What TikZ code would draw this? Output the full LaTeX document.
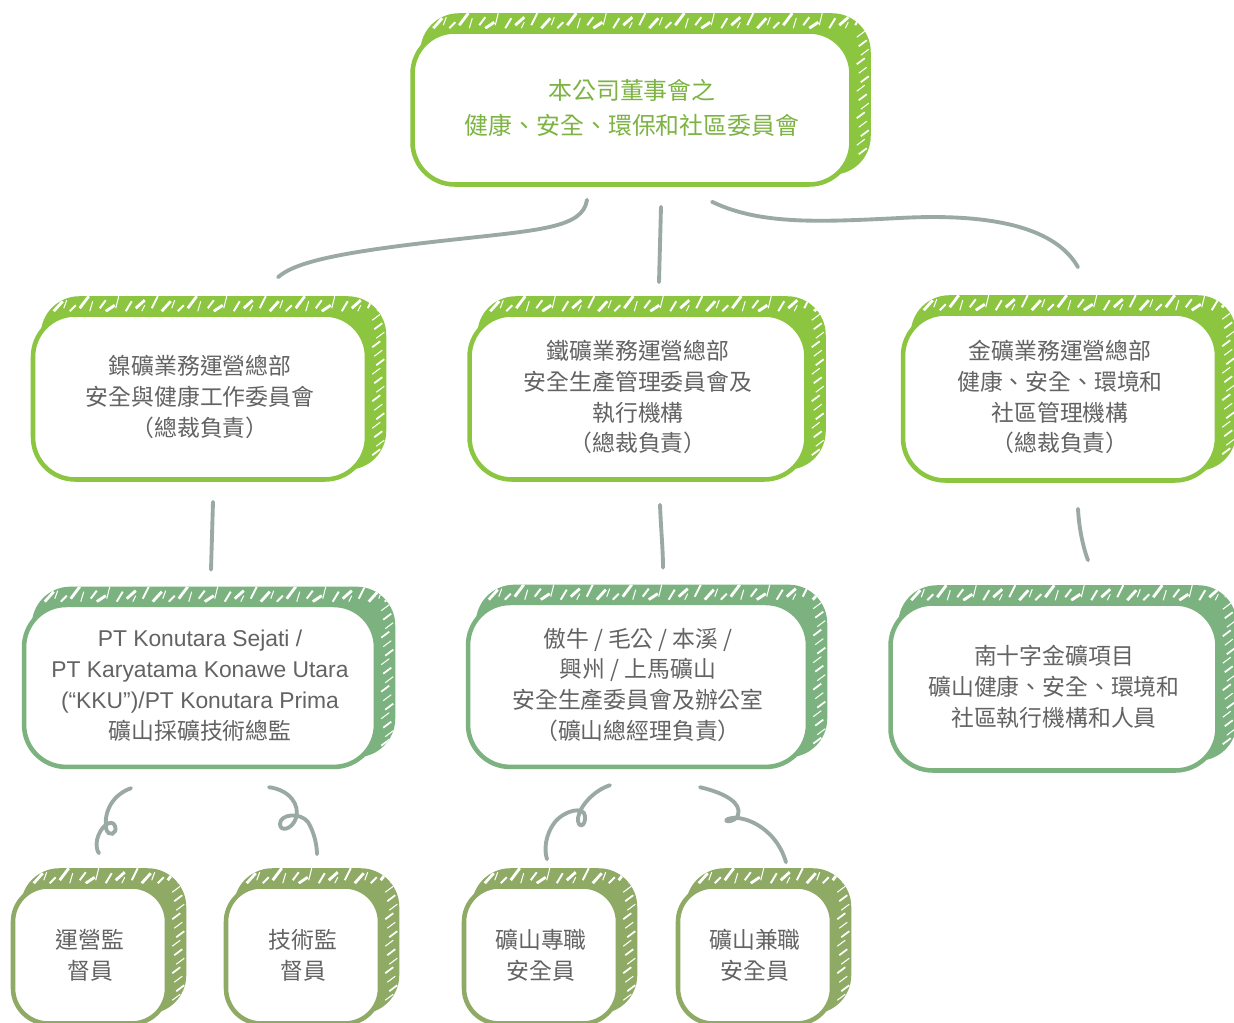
\documentclass[tikz,border=0pt]{standalone}
\usepackage{fontspec}
\setmainfont{Noto Sans CJK TC}
\newfontfamily\latinfont{Liberation Sans}
\usetikzlibrary{positioning,backgrounds}

\definecolor{lime}{HTML}{8CC540}
\definecolor{sage}{HTML}{7BB27F}
\definecolor{olive}{HTML}{8EAA64}
\definecolor{linkg}{HTML}{9AA9A3}
\definecolor{textg}{HTML}{636363}
\definecolor{headg}{HTML}{7CB342}

% sketchy rim behind a box: #1 node, #2 colour
\newcommand{\rim}[2]{%
  \begin{scope}[on background layer]
    \fill[#2,rounded corners=22pt] ([shift={(10,-12)}]#1.south west) rectangle ([shift={(17,-16)}]#1.north east);
    \begin{scope}
      \clip[rounded corners=22pt] ([shift={(10,-12)}]#1.south west) rectangle ([shift={(17,-16)}]#1.north east);
      \foreach \k in {0,...,50}
        \draw[white,line width={0.6pt+mod(\k,3)*0.5pt}] ([shift={({\k*9+3+mod(\k*5,4)},{-1-mod(\k,2)*3})}]#1.north west)
          -- ++({3+mod(\k,3)*3},{-6-mod(\k*7,4)*2});
      \foreach \k in {0,...,15}
        \draw[white,line width={0.6pt+mod(\k,2)*0.4pt}] ([shift={({3+mod(\k,3)*2},{\k*9+8})}]#1.north east) -- ++(8,-6);
    \end{scope}
  \end{scope}}

\begin{document}
\begin{tikzpicture}[x=0.02cm,y=-0.02cm,
    box/.style={draw,fill=white,line width=2.6pt,rounded corners=24pt,align=center,inner sep=0pt,
      text=textg,font=\fontsize{13pt}{17.6pt}\selectfont},
    staff/.style={box,draw=olive,rounded corners=20pt,minimum width=3.08cm,minimum height=2.74cm},
    link/.style={draw=linkg,line width=2.2pt,line cap=round}]
  \useasboundingbox (0,0) rectangle (1234,1023);
  \clip (0,0) rectangle (1234,1023);

  % top level
  \node[box,draw=lime,minimum width=8.78cm,minimum height=3.06cm,text=headg,
        font=\fontsize{13.6pt}{20pt}\selectfont] (top) at (632,108)
        {本公司董事會之\\健康、安全、環保和社區委員會};

  % business headquarters
  \node[box,draw=lime,minimum width=6.68cm,minimum height=3.3cm]  (nickel) at (200,397)
        {鎳礦業務運營總部\\安全與健康工作委員會\\（總裁負責）};
  \node[box,draw=lime,minimum width=6.74cm,minimum height=3.3cm]  (iron)   at (638,397)
        {鐵礦業務運營總部\\安全生產管理委員會及\\執行機構\\（總裁負責）};
  \node[box,draw=lime,minimum width=6.28cm,minimum height=3.34cm] (gold)   at (1060,397)
        {金礦業務運營總部\\健康、安全、環境和\\社區管理機構\\（總裁負責）};

  % mine level
  \node[box,draw=sage,minimum width=7.04cm,minimum height=3.24cm,on grid] (kku)   [below=5.78cm of nickel]
        {{\latinfont PT Konutara Sejati /}\\{\latinfont PT Karyatama Konawe Utara}\\
         {\latinfont (“KKU”)/PT Konutara Prima}\\礦山採礦技術總監};
  \node[box,draw=sage,minimum width=6.8cm,minimum height=3.28cm,on grid]  (mines) [below=5.76cm of iron]
        {傲牛 / 毛公 / 本溪 /\\興州 / 上馬礦山\\安全生產委員會及辦公室\\（礦山總經理負責）};
  \node[box,draw=sage,minimum width=6.54cm,minimum height=3.34cm] (cross) at (1054,687)
        {南十字金礦項目\\礦山健康、安全、環境和\\社區執行機構和人員};

  % staff
  \node[staff] (ops)  at (90,955)  {運營監\\督員};
  \node[staff] (tech) at (303,955) {技術監\\督員};
  \node[staff] (full) at (541,955) {礦山專職\\安全員};
  \node[staff] (part) at (755,955) {礦山兼職\\安全員};

  \rim{top}{lime}
  \rim{nickel}{lime}
  \rim{iron}{lime}
  \rim{gold}{lime}
  \rim{kku}{sage}
  \rim{mines}{sage}
  \rim{cross}{sage}
  \rim{ops}{olive}
  \rim{tech}{olive}
  \rim{full}{olive}
  \rim{part}{olive}

  % connectors
  \draw[link] ([shift={(-45,13)}]top.south) .. controls (583,228) and (540,230) .. (450,240)
                .. controls (340,252) and (295,262) .. ([shift={(78,-35)}]nickel.north);
  \draw[link] ([shift={(29,20)}]top.south) -- ([shift={(21,-30)}]iron.north);
  \draw[link] ([shift={(80,15)}]top.south) .. controls (760,225) and (820,222) .. (900,218)
                .. controls (1010,212) and (1060,235) .. ([shift={(18,-44)}]gold.north);

  \draw[link] ([shift={(13,20)}]nickel.south) -- ([shift={(11,-33)}]kku.north);
  \draw[link] ([shift={(22,23)}]iron.south) .. controls (661,530) and (663,550) .. ([shift={(25,-33)}]mines.north);
  \draw[link] ([shift={(18,26)}]gold.south) .. controls (1079,530) and (1084,550) .. ([shift={(34,-41)}]cross.north);

  \draw[link] ([shift={(-69,19)}]kku.south) .. controls (112,795) and (104,812) .. (106,828)
                .. controls (108,838) and (118,834) .. (115,826)
                .. controls (112,818) and (100,826) .. (97,840)
                .. controls (96,846) and (97,851) .. ([shift={(9,-31)}]ops.north);
  \draw[link] ([shift={(69,18)}]kku.south) .. controls (290,790) and (300,805) .. (296,818)
                .. controls (292,830) and (280,832) .. (280,824)
                .. controls (280,814) and (300,812) .. (308,822)
                .. controls (314,832) and (317,845) .. ([shift={(14,-30)}]tech.north);
  \draw[link] ([shift={(-28,16)}]mines.south) .. controls (595,790) and (580,805) .. (578,818)
                .. controls (577,828) and (586,828) .. (585,816)
                .. controls (584,806) and (565,810) .. (555,822)
                .. controls (545,835) and (544,850) .. ([shift={(6,-25)}]full.north);
  \draw[link] ([shift={(62,18)}]mines.south) .. controls (725,793) and (742,803) .. (738,815)
                .. controls (735,823) and (722,822) .. (728,819)
                .. controls (740,814) and (775,825) .. ([shift={(31,-22)}]part.north);
\end{tikzpicture}
\end{document}
